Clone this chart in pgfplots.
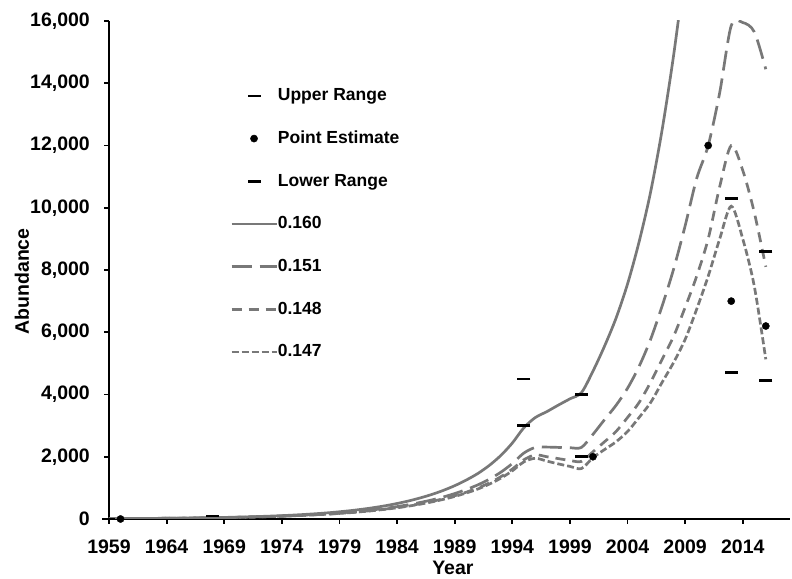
\documentclass[border=0pt]{standalone}
\usepackage{fontspec}
\setmainfont{Liberation Sans}
\usepackage{pgfplots}
\pgfplotsset{compat=1.18}
\usepackage{pgfplotstable}

\definecolor{lc}{RGB}{120,120,120}

% year, r=0.160, r=0.151, r=0.148, r=0.147
\pgfplotstableread{
yr   a      b      c      d
1959 11     11     11     11
1960 13     13     13     13
1961 15     15     15     15
1962 17     17     16     16
1963 20     19     19     19
1964 23     22     22     22
1965 27     26     25     25
1966 32     30     29     29
1967 37     34     34     33
1968 43     40     39     38
1969 50     46     44     44
1970 59     53     52     51
1971 68     61     59     58
1972 80     71     68     68
1973 93     82     79     78
1974 108    94     90     89
1975 126    109    104    102
1976 147    127    120    118
1977 171    145    138    135
1978 199    168    158    155
1979 232    194    183    179
1980 270    224    210    205
1981 315    258    242    237
1982 367    298    279    272
1983 427    344    320    313
1984 498    398    369    360
1985 580    459    425    414
1986 676    530    489    476
1987 787    611    563    547
1988 917    706    649    629
1989 1070   817    747    724
1990 1250   946    861    835
1991 1460   1095   994    962
1992 1720   1278   1158   1120
1993 2040   1502   1357   1311
1994 2440   1781   1603   1547
1995 2930   2118   1902   1834
1996 3260   2300   2060   1950
1997 3450   2310   2000   1860
1998 3660   2300   1940   1770
1999 3860   2290   1880   1690
2000 4060   2300   1850   1620
2001 4750   2720   2160   1970
2002 5550   3190   2480   2230
2003 6450   3650   2810   2480
2004 7550   4200   3260   2810
2005 8900   4900   3740   3260
2006 10500  5770   4390   3740
2007 12500  6840   5130   4390
2008 14900  8030   5870   5030
2009 17700  9420   6800   5770
2010 nan    10940  7800   6740
2011 nan    12000  9000   7800
2012 nan    13700  10680  9000
2013 nan    15850  12000  10050
2014 nan    15950  11200  9000
2015 nan    15650  9850   7480
2016 nan    14450  8100   5130
}\curves

\pgfplotstableread{
yr   v
1959 0
1968 100
1995 4500
2000 4000
2013 10300
2016 8600
}\uptab

\pgfplotstableread{
yr   v
1960 0
2001 2000
2011 12000
2013 7000
2016 6200
}\pttab

\pgfplotstableread{
yr   v
1959 0
1995 3000
2000 2000
2013 4700
2016 4450
}\lowtab

\pgfplotsset{
  ln/.style={color=lc, line width=2.7pt, no marks, smooth},
  s160/.style={ln, solid},
  s151/.style={ln, dash pattern=on 20pt off 8pt},
  s148/.style={ln, dash pattern=on 10pt off 7pt},
  s147/.style={ln, dash pattern=on 7pt off 3pt},
  rng/.style={black, only marks, mark=-, mark size=6.5pt, mark options={line width=2.6pt}},
  pe/.style={black, only marks, mark=*, mark size=3.6pt},
}

\begin{document}
\begin{tikzpicture}
\begin{axis}[
  name=ax,
  scale only axis,
  width=681pt, height=498pt,
  xmin=1959, xmax=2018.1,
  ymin=0, ymax=16000,
  axis x line*=bottom, axis y line*=left,
  axis line style={line width=1.8pt, black},
  xtick={1959,1964,...,2014},
  ytick={0,2000,...,16000},
  scaled y ticks=false,
  tick align=outside,
  major tick length=5pt,
  tick style={line width=1.8pt, black},
  clip mode=individual,
  /pgf/number format/assume math mode=true,
  /pgf/number format/1000 sep={,},
  xticklabel style={/pgf/number format/1000 sep={}, font=\bfseries\fontsize{19.5}{19.5}\selectfont, inner sep=0pt, yshift=-16pt},
  yticklabel style={font=\bfseries\fontsize{19.5}{19.5}\selectfont, inner sep=0pt, xshift=-14pt},
  xlabel={Year},
  ylabel={Abundance},
  label style={font=\bfseries\fontsize{19.5}{19.5}\selectfont},
  xlabel style={at={(axis description cs:0.505,-0.098)}, anchor=center},
  ylabel style={at={(axis description cs:-0.128,0.477)}, anchor=center},
  legend image code/.code={\draw[mark repeat=2,mark phase=2,#1] plot coordinates {(0pt,0pt) (22.5pt,0pt) (45pt,0pt)};},
  legend style={at={(axis cs:1969.5,13850)}, anchor=north west, draw=none, fill=none,
    font=\bfseries\fontsize{17.5}{17.5}\selectfont, inner sep=0pt,
    row sep=27.2pt, column sep=0pt,
    nodes={inner sep=0pt, text height=12.5pt, text depth=3pt, anchor=west, xshift=5pt}},
  legend cell align={left},
]
\addlegendimage{rng}\addlegendentry{Upper Range}
\addlegendimage{pe}\addlegendentry{Point Estimate}
\addlegendimage{rng}\addlegendentry{Lower Range}
\addlegendimage{s160}\addlegendentry{0.160}
\addlegendimage{s151}\addlegendentry{0.151}
\addlegendimage{s148}\addlegendentry{0.148}
\addlegendimage{s147}\addlegendentry{0.147}

\addplot[s160, forget plot] table[x=yr, y=a] {\curves};
\addplot[s151, forget plot] table[x=yr, y=b] {\curves};
\addplot[s148, forget plot] table[x=yr, y=c] {\curves};
\addplot[s147, forget plot] table[x=yr, y=d] {\curves};
\addplot[rng, forget plot] table[x=yr, y=v] {\uptab};
\addplot[pe, forget plot] table[x=yr, y=v] {\pttab};
\addplot[rng, forget plot] table[x=yr, y=v] {\lowtab};
\end{axis}
\pgfresetboundingbox
\path ([shift={(-109pt,-60pt)}]ax.south west) rectangle ([shift={(2pt,21pt)}]ax.north east);
\end{tikzpicture}
\end{document}
